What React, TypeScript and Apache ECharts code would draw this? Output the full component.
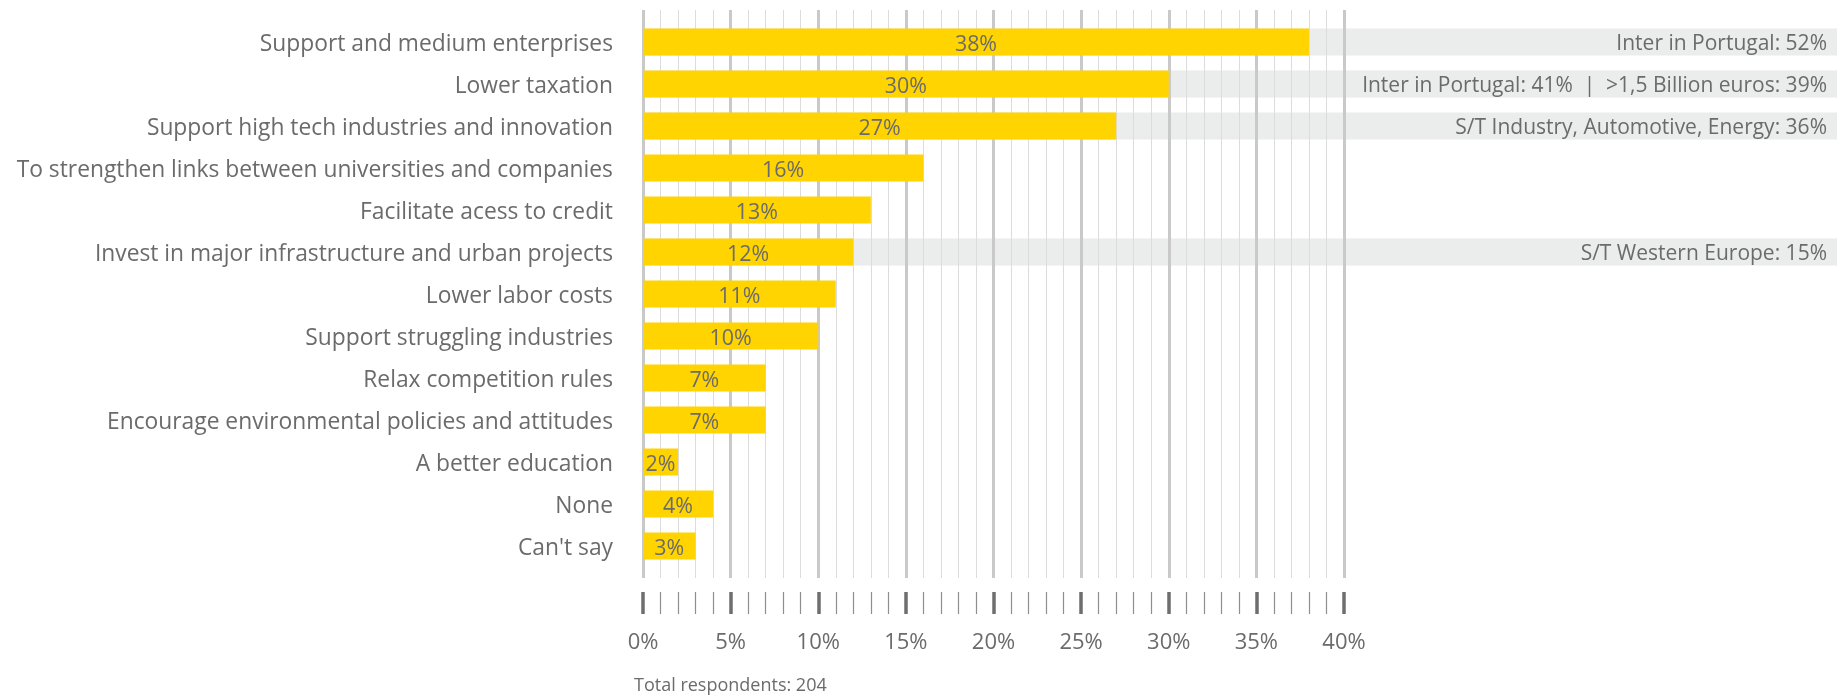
import React, { useEffect, useRef } from "react";
import * as echarts from "echarts";

const categories = [
  "Support and medium enterprises",
  "Lower taxation",
  "Support high tech industries and innovation",
  "To strengthen links between universities and companies",
  "Facilitate acess to credit",
  "Invest in major infrastructure and urban projects",
  "Lower labor costs",
  "Support struggling industries",
  "Relax competition rules",
  "Encourage environmental policies and attitudes",
  "A better education",
  "None",
  "Can't say",
];

const values = [38, 30, 27, 16, 13, 12, 11, 10, 7, 7, 2, 4, 3];

const notes = [
  "Inter in Portugal: 52%",
  "Inter in Portugal: 41%  |  >1,5 Billion euros: 39%",
  "S/T Industry, Automotive, Energy: 36%",
  "",
  "",
  "S/T Western Europe: 15%",
  "",
  "",
  "",
  "",
  "",
  "",
  "",
];

const xMin = 0;
const xMax = 40;
const xInterval = 5;
const footnote = "Total respondents: 204";

const FONT = "'Open Sans', sans-serif";
const TEXT = "#6b6b6b";
const YELLOW = "#FFD400";
const BAND = "#EBECEC";

export default function App() {
  const ref = useRef<HTMLDivElement>(null);
  useEffect(() => {
    if (!ref.current) return;
    const chart = echarts.init(ref.current, null, { renderer: "svg" });
    const plotLeft = 643;
    const plotWidth = 701;
    const rowsTop = 21;
    const rowsHeight = 546;
    chart.setOption({
      animation: false,
      textStyle: { fontFamily: FONT },
      grid: [
        { left: plotLeft, width: plotWidth, top: rowsTop, height: rowsHeight },
        { left: plotLeft, width: plotWidth, top: 10, height: 568 },
        { left: plotLeft, right: 4, top: rowsTop, height: rowsHeight },
        { left: plotLeft, width: plotWidth, top: 592, height: 22 },
      ],
      xAxis: [
        {
          gridIndex: 0,
          type: "value",
          min: xMin,
          max: xMax,
          interval: xInterval,
          show: false,
        },
        {
          gridIndex: 1,
          type: "value",
          min: xMin,
          max: xMax,
          interval: xInterval,
          z: 1,
          axisLine: { show: false },
          axisTick: { show: false },
          axisLabel: { show: false },
          splitLine: {
            show: true,
            lineStyle: { color: "#c9c9c9", width: 3 },
          },
          minorTick: { show: false, splitNumber: 5 },
          minorSplitLine: {
            show: true,
            lineStyle: { color: "#dcdcdc", width: 1 },
          },
        },
        {
          gridIndex: 2,
          type: "value",
          min: 0,
          max: 1,
          show: false,
        },
        {
          gridIndex: 3,
          type: "value",
          min: xMin,
          max: xMax,
          interval: xInterval,
          position: "bottom",
          axisLine: { show: false },
          splitLine: { show: false },
          axisTick: {
            show: true,
            inside: true,
            length: 22,
            lineStyle: { color: "#6e6e6e", width: 3.5 },
          },
          minorTick: {
            show: true,
            splitNumber: 5,
            length: 22,
            lineStyle: { color: "#8e8e8e", width: 1.2 },
          },
          axisLabel: {
            margin: 15,
            fontSize: 22,
            color: TEXT,
            fontFamily: FONT,
            formatter: (v: number) => `${v}%`,
          },
        },
      ],
      yAxis: [
        {
          gridIndex: 0,
          type: "category",
          data: categories,
          inverse: true,
          axisLine: { show: false },
          axisTick: { show: false },
          axisLabel: {
            margin: 30,
            fontSize: 22.8,
            color: TEXT,
            fontFamily: FONT,
          },
        },
        { gridIndex: 1, type: "value", show: false },
        {
          gridIndex: 2,
          type: "category",
          data: categories,
          inverse: true,
          show: false,
        },
        { gridIndex: 3, type: "value", show: false },
      ],
      series: [
        {
          type: "bar",
          xAxisIndex: 2,
          yAxisIndex: 2,
          z: 0,
          barWidth: 27,
          itemStyle: { color: BAND },
          silent: true,
          data: notes.map((n) =>
            n
              ? { value: 1, label: { show: true, formatter: n } }
              : { value: "-" }
          ),
          label: {
            show: true,
            position: "insideRight",
            distance: 10,
            fontSize: 21,
            color: TEXT,
            fontFamily: FONT,
          },
        },
        {
          type: "bar",
          xAxisIndex: 0,
          yAxisIndex: 0,
          z: 3,
          barWidth: 27,
          itemStyle: { color: YELLOW },
          data: values,
          label: {
            show: true,
            position: "inside",
            fontSize: 21.4,
            color: TEXT,
            fontFamily: FONT,
            formatter: (p: any) => `${p.value}%`,
          },
        },
      ],
      graphic: [
        {
          type: "text",
          x: 634,
          y: 684,
          style: {
            text: footnote,
            fontSize: 18,
            lineHeight: 18,
            verticalAlign: "middle",
            align: "left",
            fill: TEXT,
            fontFamily: FONT,
          },
        },
      ],
    });
    return () => chart.dispose();
  }, []);
  return (
    <div
      ref={ref}
      style={{ position: "fixed", left: 0, top: 0, width: 1841, height: 696 }}
    />
  );
}
